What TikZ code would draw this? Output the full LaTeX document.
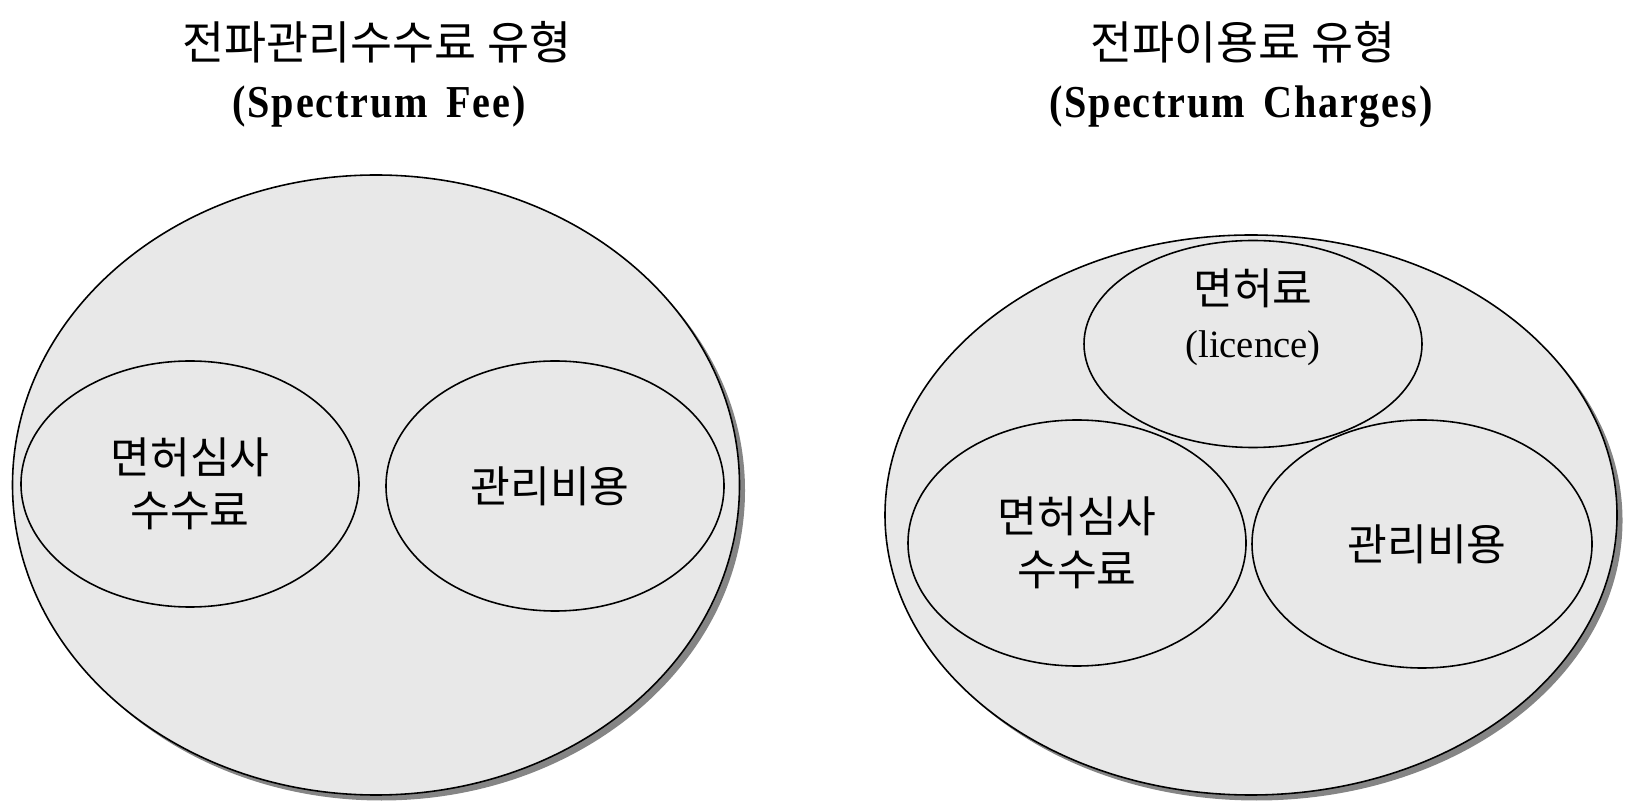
\documentclass[tikz,border=0pt]{standalone}
\usepackage{fontspec}
\setmainfont{Liberation Serif}
\newfontfamily\kr{Noto Sans CJK KR}
\newfontfamily\headfont[FakeStretch=0.88,LetterSpace=4]{Liberation Serif}
\usetikzlibrary{shapes.geometric,shadows}
\definecolor{ellgray}{RGB}{232,232,232}

\begin{document}
\begin{tikzpicture}[
  bigset/.style={ellipse,draw=black,line width=0.45pt,fill=ellgray,inner sep=0pt,
    drop shadow={shadow xshift=0.055cm,shadow yshift=-0.055cm,fill=black!48,opacity=1}},
  subset/.style={ellipse,draw=black,line width=0.45pt,fill=ellgray,inner sep=0pt,
    minimum width=3.38cm,minimum height=2.46cm},
  headkr/.style={anchor=base,font=\kr\fontsize{13}{16}\selectfont},
  headen/.style={anchor=base,font=\headfont\bfseries\fontsize{13}{16}\selectfont},
  lbl/.style={align=center,font=\kr\fontsize{12.3}{15.2}\selectfont}
]
\useasboundingbox (0,0) rectangle (16.37,-8.09);

% spectrum fee
\node at (3.77,-0.60) [headkr] (feeHead) {전파관리수수료 유형};
\node at (3.79,-1.18) [headen] (feeHeadEn) {(Spectrum\hspace{0.4em}Fee)};
\node at (3.76,-4.85) [bigset,minimum width=7.27cm,minimum height=6.20cm] (feeAll) {};
\node at (1.90,-4.84) [subset] (feeExam) {};
\node at (5.55,-4.86) [subset,minimum height=2.50cm] (feeMgmt) {};
\node at (feeExam.center) [lbl] (feeExamTxt) {면허심사\\수수료};
\node at (feeMgmt.center) [lbl,xshift=-0.05cm] (feeMgmtTxt) {관리비용};

% spectrum charges
\node at (12.43,-0.60) [headkr] (chgHead) {전파이용료 유형};
\node at (12.41,-1.18) [headen] (chgHeadEn) {(Spectrum\hspace{0.4em}Charges)};
\node at (12.51,-5.15) [bigset,minimum width=7.32cm,minimum height=5.60cm] (chgAll) {};
\node at (12.53,-3.44) [subset,minimum height=2.07cm] (chgLic) {};
\node at (10.77,-5.43) [subset] (chgExam) {};
\node at (14.22,-5.44) [subset,minimum width=3.40cm,minimum height=2.48cm] (chgMgmt) {};
\node at (12.53,-3.17) [lbl] (chgLicTxt) {면허료\\\rmfamily\fontsize{11}{15.2}\selectfont(licence)};
\node at (chgExam.center) [lbl] (chgExamTxt) {면허심사\\수수료};
\node at (chgMgmt.center) [lbl,xshift=0.05cm] (chgMgmtTxt) {관리비용};
\end{tikzpicture}
\end{document}
